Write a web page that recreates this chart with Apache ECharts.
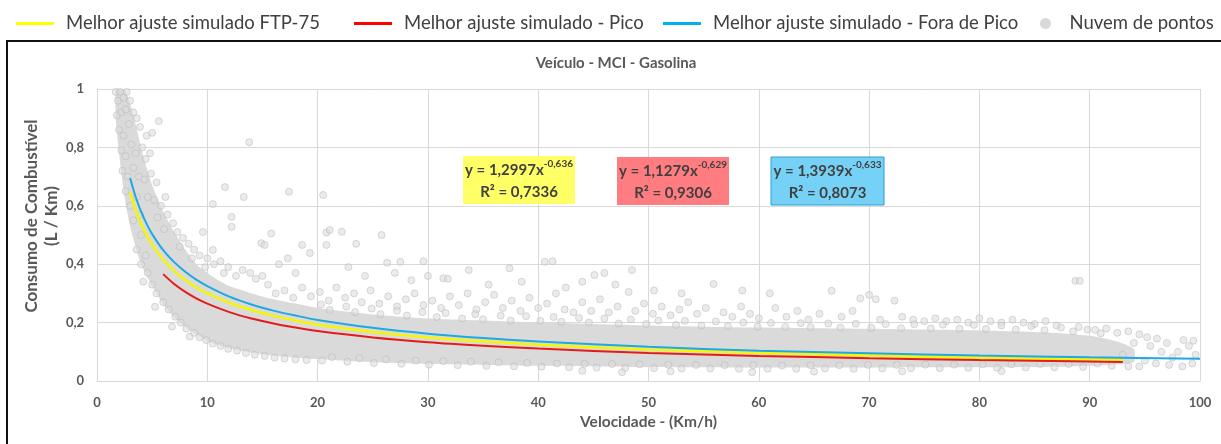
<!DOCTYPE html>
<html><head><meta charset="utf-8">
<script src="https://cdn.jsdelivr.net/npm/echarts@6/dist/echarts.min.js"></script>
<style>html,body{margin:0;padding:0;background:#fff}#c{width:1221px;height:444px}</style>
</head><body><div id="c"></div>
<script>
// ---------- DATA ----------
const chartTitle = 'Veículo - MCI - Gasolina';
const xName = 'Velocidade - (Km/h)';
const yName = 'Consumo de Combustível\n(L / Km)';
const xTickLabels = ['0','10','20','30','40','50','60','70','80','90','100'];
const yTickLabels = ['0','0,2','0,4','0,6','0,8','1'];
const seriesNames = ['Melhor ajuste simulado FTP-75','Melhor ajuste simulado - Pico','Melhor ajuste simulado - Fora de Pico','Nuvem de pontos'];

// fitted curves
const ftpX = [3,3.5,4,4.5,5,6,7,8,9,10,12,14,16,18,20,25,30,35,40,50,60,70,80,90,93];
const ftpY = [0.646,0.586,0.538,0.499,0.467,0.416,0.377,0.346,0.321,0.301,0.268,0.243,0.223,0.207,0.193,0.168,0.149,0.136,0.124,0.108,0.096,0.087,0.080,0.074,0.073];
const picoX = [6,7,8,9,10,12,14,16,18,20,25,30,35,40,50,60,70,80,90,93];
const picoY = [0.366,0.332,0.305,0.283,0.265,0.236,0.214,0.197,0.183,0.171,0.149,0.133,0.121,0.111,0.096,0.086,0.078,0.072,0.067,0.065];
const foraX = [3,3.5,4,4.5,5,6,7,8,9,10,12,14,16,18,20,25,30,35,40,50,60,70,80,90,100];
const foraY = [0.695,0.631,0.580,0.538,0.503,0.448,0.407,0.374,0.347,0.325,0.289,0.262,0.241,0.224,0.209,0.182,0.162,0.147,0.135,0.117,0.104,0.095,0.087,0.081,0.076];

// equation boxes
const fitCoef = ['1,2997','1,1279','1,3939'];
const fitExp = ['-0,636','-0,629','-0,633'];
const fitR2 = ['0,7336','0,9306','0,8073'];

// dense core of the point cloud (lower / upper extent by speed)
const coreX = [1.7,2.0,2.5,3.0,3.5,4.0,4.5,5.0,6.0,7.0,8.0,9.0,10,11,12,14,16,18,20,25,30,35,40,45,50,55,60,65,70,75,80,85,88,90,92,94];
const coreLow = [0.9,0.78,0.63,0.53,0.46,0.4,0.36,0.325,0.262,0.218,0.185,0.16,0.138,0.123,0.112,0.097,0.087,0.08,0.075,0.064,0.058,0.055,0.052,0.05,0.048,0.047,0.046,0.046,0.046,0.047,0.047,0.048,0.05,0.052,0.056,0.065];
const coreHigh = [1.0,1.0,1.0,0.95,0.88,0.8,0.73,0.67,0.58,0.51,0.45,0.4,0.37,0.345,0.325,0.3,0.28,0.265,0.25,0.228,0.214,0.207,0.2,0.195,0.19,0.186,0.183,0.181,0.179,0.176,0.173,0.168,0.162,0.155,0.14,0.11];

// individual points of the cloud
const cloudLeft = [[1.7,0.99],[1.9,0.96],[2.1,0.99],[2.4,0.97],[2.7,0.99],[1.8,0.91],[2.2,0.92],[2.6,0.93],[3.0,0.96],[3.3,0.92],[2.0,0.86],[2.4,0.84],[2.9,0.88],[3.6,0.9],[3.9,0.87],[4.5,0.84],[5.0,0.85],[5.6,0.89],[2.2,0.79],[2.6,0.77],[3.1,0.81],[3.5,0.78],[4.1,0.8],[4.4,0.76],[4.8,0.78],[2.3,0.72],[2.8,0.7],[3.3,0.73],[3.8,0.7],[4.3,0.69],[4.9,0.71],[5.4,0.68],[2.6,0.65],[3.0,0.6],[3.6,0.63],[4.6,0.63],[5.2,0.62],[5.8,0.6],[6.2,0.63],[3.3,0.55],[3.9,0.57],[5.5,0.56],[6.4,0.57],[6.9,0.54],[4.0,0.5],[6.1,0.52],[7.3,0.51],[7.8,0.49],[3.6,0.45],[4.4,0.43],[7.5,0.46],[8.3,0.47],[8.8,0.45],[9.6,0.51],[4.0,0.4],[4.6,0.37],[8.6,0.42],[9.3,0.43],[10.0,0.42],[10.5,0.449],[4.2,0.34],[5.0,0.33],[9.8,0.39],[10.6,0.4],[11.2,0.41],[11.9,0.39],[5.26,0.254],[5.4,0.3],[6.0,0.27],[11.5,0.37],[12.6,0.36],[13.2,0.38],[13.9,0.37],[6.5,0.245],[6.8,0.186],[7.1,0.22],[14.4,0.35],[15.0,0.36],[7.6,0.2],[8.4,0.152],[8.1,0.18],[8.8,0.165],[9.3,0.15],[9.9,0.14],[10.5,0.128],[11.2,0.12],[11.9,0.11],[12.7,0.104],[13.5,0.096],[14.3,0.09],[15.2,0.086],[16.1,0.08],[17.0,0.077],[18.0,0.074],[19.0,0.072]];
const cloudOutliers = [[13.8,0.818],[11.6,0.664],[13.3,0.63],[17.4,0.648],[20.5,0.637],[10.5,0.606],[12.2,0.562],[12.2,0.528],[14.9,0.472],[15.2,0.466],[15.8,0.505],[18.6,0.466],[19.3,0.438],[20.8,0.508],[22.2,0.511],[21.1,0.517],[20.8,0.466],[25.8,0.5],[23.5,0.47],[37.4,0.386],[40.6,0.408],[41.3,0.41],[45.1,0.363],[46.0,0.37],[29.6,0.41],[27.5,0.408],[26.3,0.405],[31.4,0.352],[31.8,0.35],[48.5,0.38],[48.2,0.305],[55.9,0.332],[66.6,0.309],[69.2,0.283],[70.0,0.295],[70.6,0.28],[72.3,0.275],[88.7,0.343],[89.1,0.343]];
const cloudMid = [[15.5,0.33],[16.2,0.3],[17.0,0.31],[17.8,0.285],[18.6,0.32],[19.4,0.29],[20.2,0.305],[21.0,0.275],[21.7,0.32],[22.5,0.285],[23.3,0.3],[24.0,0.27],[24.8,0.31],[25.6,0.265],[26.4,0.29],[27.2,0.255],[28.0,0.28],[28.8,0.3],[29.6,0.26],[30.4,0.275],[31.2,0.25],[32.0,0.29],[32.8,0.26],[33.6,0.3],[34.4,0.245],[35.2,0.27],[36.0,0.295],[36.8,0.25],[37.6,0.275],[38.4,0.24],[39.2,0.285],[40.0,0.25],[40.8,0.265],[41.6,0.3],[42.4,0.245],[43.2,0.235],[44.0,0.27],[44.8,0.24],[45.6,0.28],[46.4,0.235],[47.2,0.255],[48.8,0.24],[49.6,0.265],[50.4,0.23],[51.2,0.255],[52.0,0.225],[52.8,0.245],[53.6,0.27],[54.4,0.23],[55.2,0.25],[56.8,0.235],[57.6,0.22],[58.4,0.255],[59.2,0.23],[60.0,0.215],[16.5,0.4],[17.3,0.42],[18.0,0.37],[22.8,0.39],[24.3,0.36],[27.0,0.37],[28.5,0.345],[30.0,0.36],[33.7,0.38],[35.5,0.33],[38.5,0.34],[42.5,0.32],[44.0,0.34],[47.0,0.33],[50.5,0.31],[53.0,0.3],[58.5,0.31],[61.0,0.3]];
const cloudRight = [[61.5,0.25],[62.5,0.22],[63.5,0.24],[64.5,0.21],[65.5,0.23],[67.5,0.22],[68.5,0.24],[71.0,0.21],[73.0,0.22],[74.0,0.21],[75.0,0.205],[76.0,0.215],[77.0,0.205],[78.0,0.21],[79.0,0.2],[80.0,0.215],[81.0,0.205],[82.0,0.2],[83.0,0.21],[84.0,0.2],[85.0,0.195],[86.0,0.205],[87.0,0.19],[89.0,0.185],[90.5,0.175],[91.5,0.18],[92.5,0.165],[93.5,0.17],[94.5,0.16],[95.2,0.15],[96.1,0.145],[97.0,0.13],[98.5,0.14],[99.4,0.138],[99.0,0.12],[98.0,0.1],[97.5,0.08],[96.5,0.1],[95.5,0.12],[94.0,0.13],[93.0,0.09],[95.0,0.07],[96.0,0.06],[97.2,0.055],[98.4,0.05],[99.3,0.06],[99.6,0.09],[94.5,0.05],[93.5,0.05],[47.6,0.03],[59.4,0.03],[44.0,0.035],[52.0,0.033],[65.0,0.032],[73.0,0.033],[82.0,0.034]];
const cloudUpperEdge = [[20.3,0.262],[21.1,0.243],[22.6,0.255],[23.4,0.236],[24.9,0.248],[25.7,0.229],[27.2,0.241],[28.1,0.224],[29.5,0.236],[30.8,0.219],[31.6,0.233],[33.1,0.214],[34.3,0.229],[35.0,0.211],[36.6,0.224],[37.5,0.207],[38.9,0.222],[40.2,0.206],[41.4,0.219],[42.1,0.203],[43.7,0.216],[44.6,0.2],[46.0,0.214],[47.3,0.197],[48.4,0.211],[49.8,0.195],[50.9,0.207],[52.5,0.192],[53.3,0.206],[54.8,0.19],[56.1,0.204],[57.2,0.188],[58.6,0.2],[59.9,0.186],[61.1,0.199],[62.4,0.185],[63.8,0.198],[64.7,0.184],[66.3,0.197],[67.4,0.183],[68.8,0.196],[70.2,0.182],[71.5,0.195],[72.9,0.181],[74.1,0.194],[75.6,0.18],[76.7,0.193],[78.2,0.179],[79.5,0.192],[80.6,0.178],[82.0,0.19],[83.3,0.176],[84.7,0.188],[85.9,0.174],[87.4,0.183],[88.5,0.17],[89.8,0.176],[91.0,0.163]];
const cloudLowerEdge = [[20.4,0.07],[21.3,0.082],[22.7,0.066],[23.8,0.078],[25.1,0.062],[26.2,0.074],[27.6,0.059],[28.9,0.07],[30.1,0.056],[31.4,0.068],[32.7,0.054],[33.9,0.066],[35.3,0.052],[36.4,0.064],[37.8,0.05],[39.0,0.062],[40.3,0.049],[41.7,0.06],[42.8,0.047],[44.2,0.059],[45.3,0.046],[46.7,0.058],[47.9,0.045],[49.2,0.057],[50.5,0.044],[51.8,0.056],[53.0,0.043],[54.3,0.055],[55.6,0.043],[56.9,0.054],[58.2,0.042],[59.5,0.054],[60.8,0.042],[62.1,0.053],[63.4,0.042],[64.7,0.054],[66.0,0.043],[67.3,0.054],[68.6,0.042],[69.9,0.055],[71.2,0.043],[72.5,0.055],[73.8,0.044],[75.1,0.056],[76.4,0.044],[77.7,0.056],[79.0,0.045],[80.3,0.057],[81.6,0.045],[82.9,0.057],[84.2,0.046],[85.5,0.058],[86.8,0.047],[88.1,0.058],[89.4,0.048],[90.7,0.06],[92.0,0.052]];

// ---------- CHART ----------
const FONT = 'Lato';
const zip = (xs, ys) => xs.map((x, i) => [x, ys[i]]);
const cloudAll = [].concat(cloudLeft, cloudOutliers, cloudMid, cloudRight, cloudUpperEdge, cloudLowerEdge);
const chart = echarts.init(document.getElementById('c'), null, {renderer: 'canvas'});

const boxLayout = [
  {x: 463, y: 156, w: 112, h: 48, fill: '#ffff66', stroke: null},
  {x: 617, y: 157, w: 112, h: 48, fill: '#ff7c80', stroke: null},
  {x: 771, y: 157, w: 113, h: 48, fill: '#75d2f6', stroke: '#2a9fd6'}
];
const graphics = [
  {type: 'rect', shape: {x: 7, y: 41, width: 1230, height: 430}, style: {fill: 'none', stroke: '#111', lineWidth: 2}, silent: true, z: 10},
  {type: 'text', x: 616, y: 63, style: {text: chartTitle, align: 'center', verticalAlign: 'middle', font: 'bold 15px ' + FONT, fill: '#595959'}},
  {type: 'text', x: 42, y: 216, rotation: Math.PI / 2, style: {text: yName, align: 'center', verticalAlign: 'middle', font: 'bold 17px ' + FONT, fill: '#595959', lineHeight: 20}}
];
boxLayout.forEach((b, i) => {
  graphics.push({type: 'rect', shape: {x: b.x, y: b.y, width: b.w, height: b.h}, style: {fill: b.fill, stroke: b.stroke || 'none', lineWidth: 1}, z: 20});
  graphics.push({type: 'text', x: b.x + b.w / 2, y: b.y + b.h / 2 + 1, z: 21, style: {
    text: '{b|y = ' + fitCoef[i] + 'x}{s|' + fitExp[i] + '}\n{b|R² = ' + fitR2[i] + '}',
    align: 'center', verticalAlign: 'middle',
    rich: {
      b: {fontFamily: FONT, fontSize: 15, fontWeight: 'bold', fill: '#404040', lineHeight: 22},
      s: {fontFamily: FONT, fontSize: 10, fontWeight: 'bold', fill: '#404040', lineHeight: 22, verticalAlign: 'top'}
    }
  }});
});

const legendCommon = {
  top: 14, itemWidth: 38, itemHeight: 3, padding: 0, itemGap: 0,
  textStyle: {fontFamily: FONT, fontSize: 18.5, color: '#404040', padding: [0, 0, 0, 7]}
};
const lineItem = name => ({name: name, icon: 'rect'});

const option = {
  animation: false,
  backgroundColor: '#fff',
  grid: {left: 97, right: 21, top: 89, bottom: 63, containLabel: false},
  legend: [
    Object.assign({}, legendCommon, {left: 16, data: [lineItem(seriesNames[0])]}),
    Object.assign({}, legendCommon, {left: 354, data: [lineItem(seriesNames[1])]}),
    Object.assign({}, legendCommon, {left: 663, data: [lineItem(seriesNames[2])]}),
    Object.assign({}, legendCommon, {left: 1040, itemHeight: 11,
      data: [{name: seriesNames[3], icon: 'circle', itemStyle: {color: '#cfcfcf', borderWidth: 0}, textStyle: {padding: 0}}]})
  ],
  xAxis: {
    type: 'value', min: 0, max: 100, interval: 10,
    name: xName, nameLocation: 'middle', nameGap: 31,
    nameTextStyle: {fontFamily: FONT, fontSize: 15.5, fontWeight: 'bold', color: '#595959'},
    axisLine: {show: true, lineStyle: {color: '#d9d9d9'}},
    axisTick: {show: false},
    axisLabel: {margin: 15, fontFamily: FONT, fontSize: 13, fontWeight: 'bold', color: '#595959',
      formatter: v => xTickLabels[Math.round(v / 10)]},
    splitLine: {show: true, lineStyle: {color: '#d9d9d9'}}
  },
  yAxis: {
    type: 'value', min: 0, max: 1, interval: 0.2,
    axisLine: {show: true, lineStyle: {color: '#d9d9d9'}},
    axisTick: {show: false},
    axisLabel: {margin: 13, fontFamily: FONT, fontSize: 13, fontWeight: 'bold', color: '#595959',
      formatter: v => yTickLabels[Math.round(v / 0.2)]},
    splitLine: {show: true, lineStyle: {color: '#d9d9d9'}}
  },
  graphic: graphics,
  series: [
    {
      name: seriesNames[3], type: 'scatter', data: cloudAll, symbolSize: 7, z: 3,
      itemStyle: {color: 'rgba(220,220,220,0.7)', borderColor: 'rgba(180,180,180,0.75)', borderWidth: 0.8},
      emphasis: {disabled: true}
    },
    {
      name: seriesNames[3], type: 'custom', z: 2, data: [0], silent: true,
      renderItem: (params, api) => {
        const pts = [];
        coreX.forEach((x, i) => pts.push(api.coord([x, coreHigh[i]])));
        for (let i = coreX.length - 1; i >= 0; i--) pts.push(api.coord([coreX[i], coreLow[i]]));
        return {type: 'polygon', shape: {points: pts, smooth: 0.2},
          style: {fill: '#dadada', stroke: 'none'}};
      },
      clip: true
    },
    {name: seriesNames[0], type: 'line', data: zip(ftpX, ftpY), symbol: 'none', smooth: 0.3, z: 5,
      lineStyle: {color: '#f5f50a', width: 2.5}, itemStyle: {color: '#ffff00'}},
    {name: seriesNames[1], type: 'line', data: zip(picoX, picoY), symbol: 'none', smooth: 0.3, z: 5,
      lineStyle: {color: '#e41b1b', width: 2}, itemStyle: {color: '#ff0000'}},
    {name: seriesNames[2], type: 'line', data: zip(foraX, foraY), symbol: 'none', smooth: 0.3, z: 6,
      lineStyle: {color: '#1ea9e1', width: 2}, itemStyle: {color: '#00b0f0'}}
  ]
};
chart.setOption(option);
</script>
</body></html>
